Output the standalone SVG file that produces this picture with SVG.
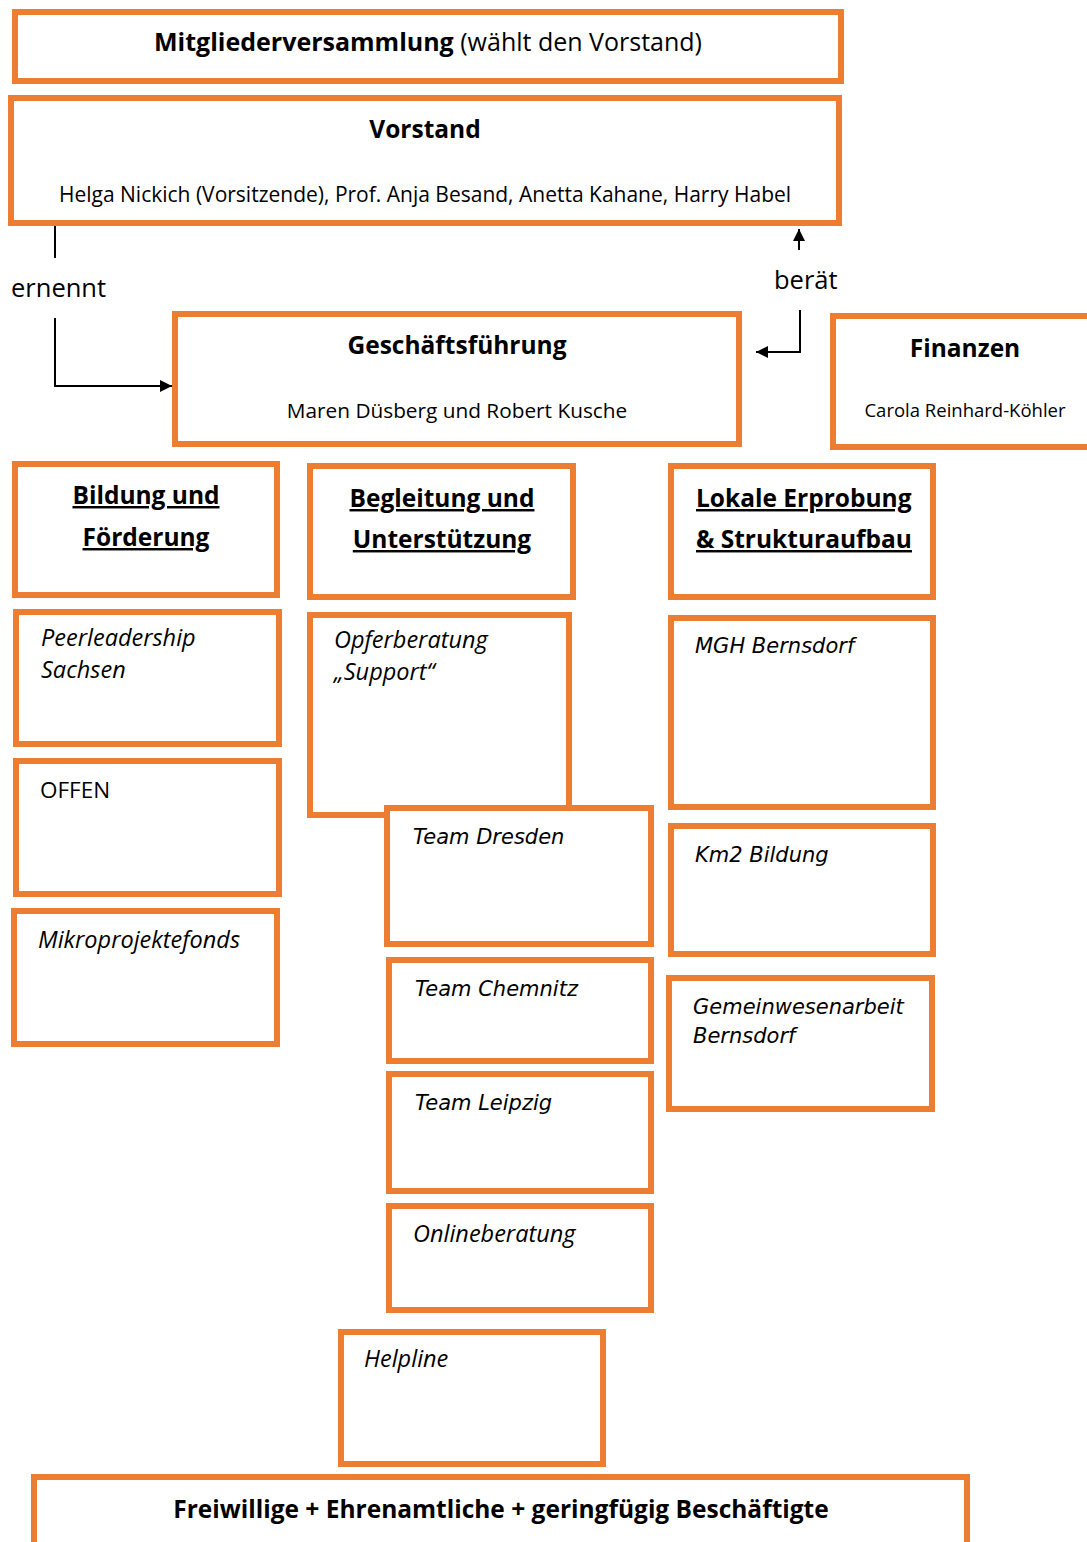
<svg xmlns="http://www.w3.org/2000/svg" width="1087" height="1542" viewBox="0 0 1087 1542">
<defs>
<style>
.box{fill:#fff;stroke:#ED7D31;stroke-width:6}
.t{font-family:"Open Sans","Liberation Sans",sans-serif;fill:#000}
.b{font-weight:bold}
.h{font-family:"Open Sans","Liberation Sans",sans-serif;font-weight:bold;font-size:24.5px;text-decoration:underline;fill:#000}
.i{font-family:"Open Sans","Liberation Sans",sans-serif;font-style:italic;font-size:23.5px;fill:#000}
.v{font-family:"DejaVu Sans","Liberation Sans",sans-serif;font-style:oblique;font-size:21px;fill:#000}
.c{text-anchor:middle}
.ln{fill:none;stroke:#000;stroke-width:2}
</style>
<marker id="ah" viewBox="0 0 10 10" refX="10" refY="5" markerWidth="6" markerHeight="6" orient="auto" markerUnits="strokeWidth">
<path d="M0,0 L10,5 L0,10 z" fill="#000"/>
</marker>
</defs>

<g id="connectors">
<line class="ln" x1="55" y1="226" x2="55" y2="258"/>
<polyline class="ln" points="55,318 55,386 172,386" marker-end="url(#ah)"/>
<text class="t" x="11" y="297" font-size="25.5">ernennt</text>
<line class="ln" x1="799" y1="250" x2="799" y2="229" marker-end="url(#ah)"/>
<text class="t" x="774" y="289" font-size="25.5">berät</text>
<polyline class="ln" points="800,310 800,352 756,352" marker-end="url(#ah)"/>
</g>

<g id="mitgliederversammlung">
<rect class="box" x="15" y="12" width="826" height="69"/>
<text class="t c" x="428" y="51" font-size="25"><tspan class="b">Mitgliederversammlung</tspan> (wählt den Vorstand)</text>
</g>

<g id="vorstand">
<rect class="box" x="11" y="98" width="828" height="125"/>
<text class="t b c" x="425" y="138" font-size="24.5">Vorstand</text>
<text class="t c" x="425" y="202" font-size="21">Helga Nickich (Vorsitzende), Prof. Anja Besand, Anetta Kahane, Harry Habel</text>
</g>

<g id="geschaeftsfuehrung">
<rect class="box" x="175" y="314" width="564" height="130"/>
<text class="t b c" x="457" y="354" font-size="24.5">Geschäftsführung</text>
<text class="t c" x="457" y="418" font-size="20.8">Maren Düsberg und Robert Kusche</text>
</g>

<g id="finanzen">
<rect class="box" x="833" y="316" width="260" height="131"/>
<text class="t b c" x="965" y="357" font-size="24.5">Finanzen</text>
<text class="t c" x="965" y="417" font-size="18.5">Carola Reinhard-Köhler</text>
</g>

<g id="bildung">
<rect class="box" x="15" y="464" width="262" height="131"/>
<text class="h c" x="146" y="504">Bildung und</text>
<text class="h c" x="146" y="546">Förderung</text>
</g>

<g id="begleitung">
<rect class="box" x="310" y="466" width="263" height="131"/>
<text class="h c" x="442" y="507">Begleitung und</text>
<text class="h c" x="442" y="548">Unterstützung</text>
</g>

<g id="lokale">
<rect class="box" x="671" y="466" width="262" height="131"/>
<text class="h" x="696" y="507">Lokale Erprobung</text>
<text class="h" x="696" y="548">&amp; Strukturaufbau</text>
</g>

<g id="peerleadership">
<rect class="box" x="16" y="612" width="263" height="132"/>
<text class="i" x="41" y="646">Peerleadership</text>
<text class="i" x="41" y="678">Sachsen</text>
</g>

<g id="offen">
<rect class="box" x="16" y="761" width="263" height="133"/>
<text class="t" x="40" y="798" font-size="22.5">OFFEN</text>
</g>

<g id="mikroprojektefonds">
<rect class="box" x="14" y="911" width="263" height="133"/>
<text class="i" x="38" y="948">Mikroprojektefonds</text>
</g>

<g id="opferberatung">
<rect class="box" x="310" y="615" width="259" height="200"/>
<text class="i" x="334" y="648">Opferberatung</text>
<text class="i" x="334" y="680">„Support“</text>
</g>

<g id="team-dresden">
<rect class="box" x="387" y="808" width="264" height="136"/>
<text class="v" x="413" y="844">Team Dresden</text>
</g>

<g id="team-chemnitz">
<rect class="box" x="389" y="960" width="262" height="101"/>
<text class="v" x="415" y="996">Team Chemnitz</text>
</g>

<g id="team-leipzig">
<rect class="box" x="389" y="1074" width="262" height="117"/>
<text class="v" x="415" y="1110">Team Leipzig</text>
</g>

<g id="onlineberatung">
<rect class="box" x="389" y="1206" width="262" height="104"/>
<text class="i" x="413" y="1242">Onlineberatung</text>
</g>

<g id="helpline">
<rect class="box" x="341" y="1332" width="262" height="132"/>
<text class="i" x="364" y="1367" font-size="19.5">Helpline</text>
</g>

<g id="mgh-bernsdorf">
<rect class="box" x="671" y="618" width="262" height="189"/>
<text class="v" x="695" y="653">MGH Bernsdorf</text>
</g>

<g id="km2-bildung">
<rect class="box" x="671" y="826" width="262" height="128"/>
<text class="v" x="695" y="862">Km2 Bildung</text>
</g>

<g id="gemeinwesenarbeit">
<rect class="box" x="669" y="978" width="263" height="131"/>
<text class="v" x="693" y="1014">Gemeinwesenarbeit</text>
<text class="v" x="693" y="1043">Bernsdorf</text>
</g>

<g id="freiwillige">
<rect class="box" x="34" y="1477" width="933" height="80"/>
<text class="t b c" x="501" y="1518" font-size="24.5">Freiwillige + Ehrenamtliche + geringfügig Beschäftigte</text>
</g>
</svg>
